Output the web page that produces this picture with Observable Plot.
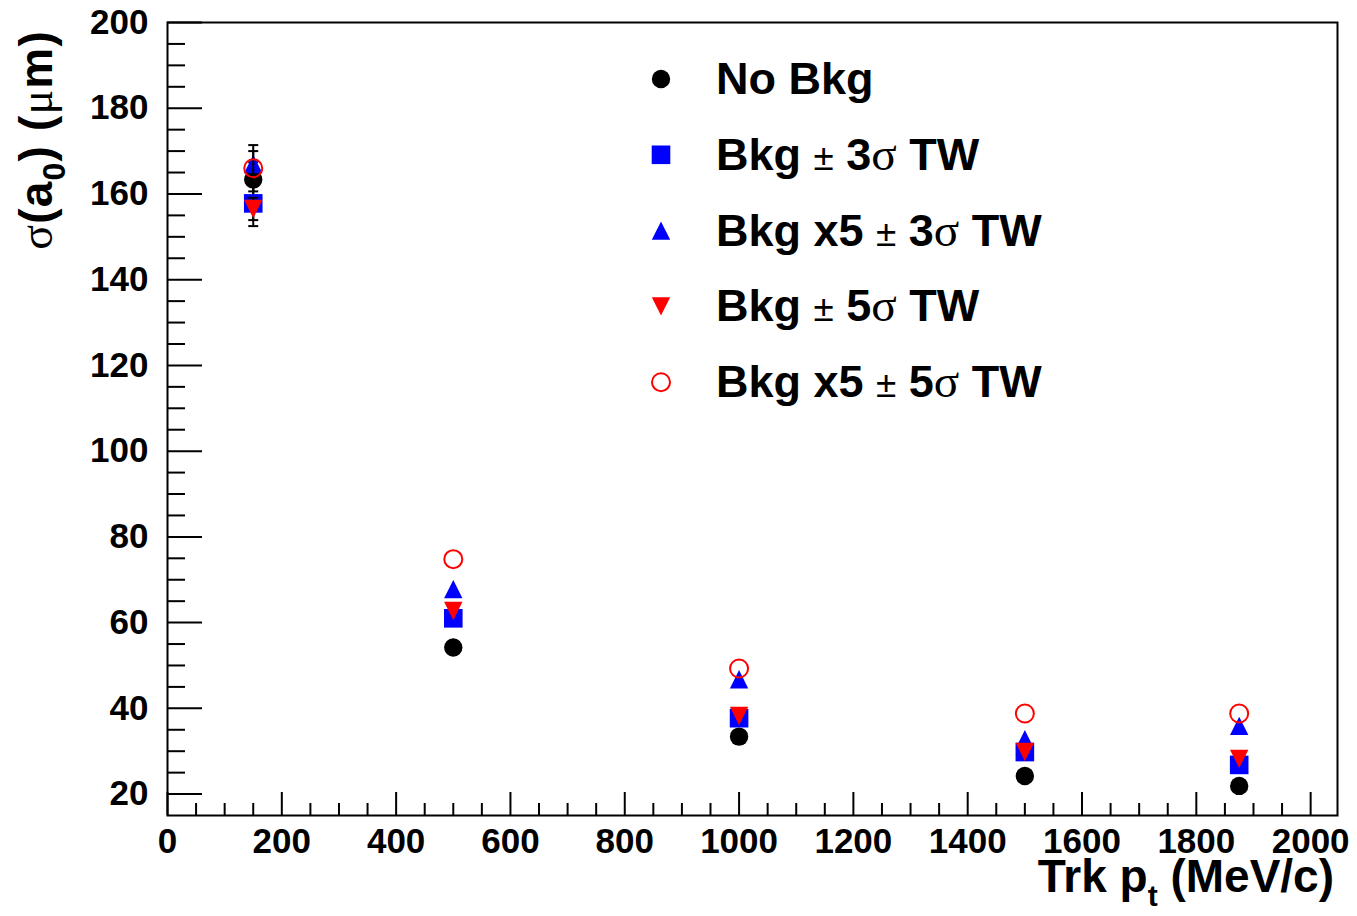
<!DOCTYPE html>
<html><head><meta charset="utf-8">
<script src="https://cdn.jsdelivr.net/npm/d3@7"></script>
<script src="https://cdn.jsdelivr.net/npm/@observablehq/plot@0.6"></script>
<style>body{margin:0;background:#fff;} svg{display:block;}</style>
</head><body><div id="chart"></div>
<script>
// ---- data ----
const pt = [150, 500, 1000, 1500, 1875];
const noBkg   = [163.4, 54.2, 33.4, 24.2, 21.9];
const bkg3    = [157.8, 61.0, 37.7, 29.8, 26.8];
const bkgx5s3 = [167.0, 67.8, 46.8, 32.8, 35.9];
const bkg5    = [156.5, 62.7, 38.2, 29.8, 28.2];
const bkgx5s5 = [166.0, 74.8, 49.3, 38.8, 38.8];
const errNoBkg   = [4.0, 0, 0, 0, 0];
const errBkg3    = [5.3, 0, 0, 0, 0];
const errBkgx5s3 = [3.0, 0, 0, 0, 0];
const errBkg5    = [2.6, 0, 0, 0, 0];
const errBkgx5s5 = [5.4, 0, 0, 0, 0];
const seriesNames = ["No Bkg", "Bkg \u00b1 3\u03c3 TW", "Bkg x5 \u00b1 3\u03c3 TW", "Bkg \u00b1 5\u03c3 TW", "Bkg x5 \u00b1 5\u03c3 TW"];
const xTicks = [0, 200, 400, 600, 800, 1000, 1200, 1400, 1600, 1800, 2000];
const yTicks = [20, 40, 60, 80, 100, 120, 140, 160, 180, 200];
const xTitle = ["Trk p", "t", " (MeV/c)"];

// ---- layout / style ----
const W = 1357, H = 916, mL = 167, mR = 20, mT = 22, mB = 101;
const innerW = W - mL - mR, innerH = H - mT - mB;
const xDomain = [0, 2047], yDomain = [15, 200];
const xMinor = d3.range(50, 2047, 50).filter(v => v % 200 !== 0);
const yMinor = d3.range(25, 200, 5).filter(v => v % 20 !== 0);

const symSquare = {draw(c, s) { const r = Math.sqrt(s / Math.PI); c.rect(-r, -r, 2 * r, 2 * r); }};
const symUp = {draw(c, s) { const r = Math.sqrt(s / Math.PI); c.moveTo(0, -r); c.lineTo(r, r); c.lineTo(-r, r); c.closePath(); }};
const symDown = {draw(c, s) { const r = Math.sqrt(s / Math.PI); c.moveTo(0, r); c.lineTo(r, -r); c.lineTo(-r, -r); c.closePath(); }};
const symCap = {draw(c, s) { const r = Math.sqrt(s / Math.PI); c.moveTo(-r, 0); c.lineTo(r, 0); }};

const values = [noBkg, bkg3, bkgx5s3, bkg5, bkgx5s5];
const errors = [errNoBkg, errBkg3, errBkgx5s3, errBkg5, errBkgx5s5];
const styles = [
  {symbol: "circle", fill: "#000000", stroke: "none", r: 9.2, sw: 0},
  {symbol: symSquare, fill: "#0000ff", stroke: "none", r: 9.3, sw: 0},
  {symbol: symUp, fill: "#0000ff", stroke: "none", r: 9.2, sw: 0},
  {symbol: symDown, fill: "#ff0000", stroke: "none", r: 9.2, sw: 0},
  {symbol: "circle", fill: "none", stroke: "#ff0000", r: 9, sw: 2}
];

const seriesMarks = values.flatMap((vals, k) => {
  const rows = pt.map((x, i) => ({x, y: vals[i], e: errors[k][i], lo: vals[i] - errors[k][i], hi: vals[i] + errors[k][i]}));
  const withErr = rows.filter(d => d.e > 0);
  const st = styles[k];
  return [
    Plot.ruleX(withErr, {x: "x", y1: "lo", y2: "hi", stroke: "#000", strokeWidth: 2}),
    Plot.dot(withErr, {x: "x", y: "lo", symbol: symCap, r: 5, stroke: "#000", strokeWidth: 2, fill: "none"}),
    Plot.dot(withErr, {x: "x", y: "hi", symbol: symCap, r: 5, stroke: "#000", strokeWidth: 2, fill: "none"}),
    Plot.dot(rows, {x: "x", y: "y", symbol: st.symbol, r: st.r, fill: st.fill, stroke: st.stroke, strokeWidth: st.sw})
  ];
});

const FONT = "'Liberation Sans', Arial, Helvetica, sans-serif";
const SERIF = "'Liberation Serif', 'DejaVu Serif', serif";

const svg = Plot.plot({
  width: W, height: H,
  marginLeft: mL, marginRight: mR, marginTop: mT, marginBottom: mB,
  x: {domain: xDomain, axis: null},
  y: {domain: yDomain, axis: null},
  style: {fontFamily: FONT, background: "#fff", color: "#000"},
  marks: [
    Plot.tickX(xMinor, {x: d => d, insetTop: innerH - 12, stroke: "#000", strokeWidth: 2}),
    Plot.tickX(xTicks, {x: d => d, insetTop: innerH - 23, stroke: "#000", strokeWidth: 2}),
    Plot.tickY(yMinor, {y: d => d, insetRight: innerW - 18, stroke: "#000", strokeWidth: 2}),
    Plot.tickY(yTicks, {y: d => d, insetRight: innerW - 35, stroke: "#000", strokeWidth: 2}),
    Plot.text(xTicks, {x: d => d, text: d => String(d), frameAnchor: "bottom", lineAnchor: "top", dy: 13, fontSize: 35, fontWeight: "bold", fill: "#000"}),
    Plot.text(yTicks, {y: d => d, text: d => String(d), frameAnchor: "left", textAnchor: "end", dx: -19, fontSize: 35, fontWeight: "bold", fill: "#000"}),
    ...seriesMarks,
    Plot.frame({stroke: "#000", strokeWidth: 2})
  ]
});

const root = d3.select(svg);

// helper: rich text with tspans
function richText(sel, text) {
  const segs = [];
  for (const ch of text) {
    let kind = "b";
    if (ch === "\u03c3" || ch === "\u03bc") kind = "g";
    else if (ch === "\u00b1") kind = "pm";
    if (segs.length && segs[segs.length - 1].kind === kind) segs[segs.length - 1].t += ch;
    else segs.push({kind, t: ch});
  }
  for (const s of segs) {
    const ts = sel.append("tspan").text(s.t);
    if (s.kind === "g") ts.attr("font-family", SERIF).attr("font-weight", "normal").attr("font-size", "1.05em");
    else if (s.kind === "pm") ts.attr("font-weight", "normal").attr("font-size", "0.82em");
    else ts.attr("font-weight", "bold");
  }
}

// legend
const leg = root.append("g");
const legX = 661, legY0 = 79, legStep = 75.8;
seriesNames.forEach((name, i) => {
  const st = styles[i];
  const y = legY0 + i * legStep;
  const type = st.symbol === "circle" ? d3.symbolCircle : st.symbol;
  leg.append("path")
    .attr("d", d3.symbol().type(type).size(st.r * st.r * Math.PI)())
    .attr("transform", `translate(${legX},${y})`)
    .attr("fill", st.fill).attr("stroke", st.stroke).attr("stroke-width", st.sw || null);
  const t = leg.append("text").attr("x", 716).attr("y", y + 15).attr("text-anchor", "start")
    .attr("font-family", FONT).attr("font-size", 45).attr("fill", "#000");
  richText(t, name);
});

// x title
const xt = root.append("text").attr("x", 1334).attr("y", 892).attr("text-anchor", "end")
  .attr("font-family", FONT).attr("font-size", 46).attr("font-weight", "bold").attr("fill", "#000");
xt.append("tspan").text(xTitle[0]);
xt.append("tspan").text(xTitle[1]).attr("font-size", 30).attr("dy", 14);
xt.append("tspan").text(xTitle[2]).attr("dy", -14);

// y title
const yt = root.append("text").attr("transform", "translate(52,30) rotate(-90)").attr("text-anchor", "end")
  .attr("font-family", FONT).attr("font-size", 46).attr("font-weight", "bold").attr("fill", "#000")
  .attr("letter-spacing", 1.2);
yt.append("tspan").text("\u03c3").attr("font-family", SERIF).attr("font-weight", "normal");
yt.append("tspan").text("(a");
yt.append("tspan").text("0").attr("font-size", 32).attr("dy", 13);
yt.append("tspan").text(") (").attr("dy", -13);
yt.append("tspan").text("\u03bc").attr("font-family", SERIF).attr("font-weight", "normal");
yt.append("tspan").text("m)");

document.getElementById("chart").appendChild(svg);
</script>
</body></html>
